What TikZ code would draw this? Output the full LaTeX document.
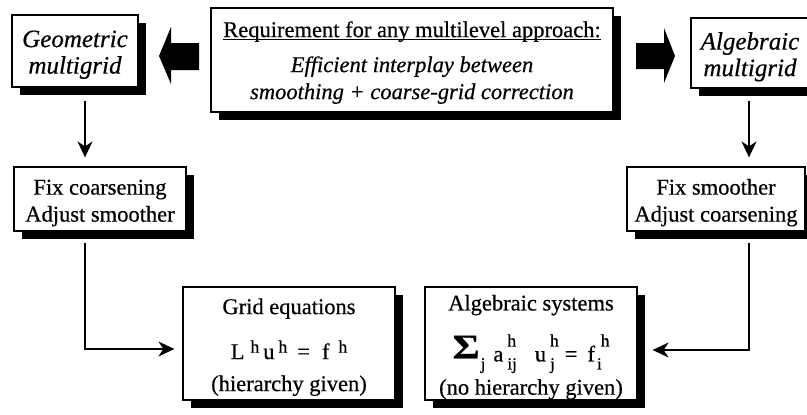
\documentclass[tikz,border=0pt]{standalone}
\usepackage{fontspec}
\usepackage{graphicx}
\setmainfont{Liberation Serif}[FakeBold=0.5]
\usetikzlibrary{shadows,arrows.meta}
\newsavebox\myulbox
\newcommand\myul[1]{\sbox\myulbox{#1}\rlap{\rule[-3pt]{\wd\myulbox}{0.9pt}}\usebox\myulbox}
\newcommand\mystrut[1]{\rule{0pt}{#1}}
\newcommand\eqsup[2]{\raisebox{#1}{\fontsize{17.5}{17.5}\selectfont #2}}
\newcommand\eqsub[1]{\raisebox{-8pt}{\fontsize{17}{17}\selectfont #1}}
\newcommand\eqstack[2]{\rlap{\eqsup{15pt}{#1}}\eqsub{#2}}
\begin{document}
\begin{tikzpicture}[x=1pt,y=-1pt,
  box/.style={draw, fill=white, line width=1.2pt, align=center, inner sep=0pt,
    font=\fontsize{22.5}{27}\selectfont,
    drop shadow={shadow xshift=8pt, shadow yshift=-8pt, fill=black, opacity=1}},
  cornerbox/.style={box, font=\fontsize{25}{26.5}\selectfont\itshape},
  conn/.style={line width=1.4pt, -{Stealth[length=16pt,width=15pt,inset=5pt]}},
  bigarrow/.style={fill=black}]
\clip (0,0) rectangle (807,415);
\fill[white] (0,0) rectangle (807,415);

% top row
\node[cornerbox, minimum width=126pt, minimum height=72pt] (geo) at (75,51)
  {\mystrut{24pt}Geometric\\multigrid};
\node[box, minimum width=402pt, minimum height=104pt] (req) at (412,60)
  {\mystrut{21pt}\myul{Requirement for any multilevel approach:}\\[8pt]
   \textit{Efficient interplay between}\\
   \textit{smoothing + coarse-grid correction}};
\node[cornerbox, minimum width=118pt, minimum height=70pt] (alg) at (750,53)
  {\mystrut{25pt}Algebraic\\multigrid};

% big arrows
\fill[bigarrow] (159,56) -- (171,27) -- (171,43) -- (199,43) -- (199,70) -- (171,70) -- (171,84) -- cycle;
\fill[bigarrow] (675,56) -- (664,28) -- (664,43) -- (636,43) -- (636,69) -- (664,69) -- (664,83) -- cycle;

% middle row
\node[box, minimum width=172pt, minimum height=64pt] (fixc) at (100,199)
  {\mystrut{23pt}Fix coarsening\\Adjust smoother};
\node[box, minimum width=178pt, minimum height=64pt] (fixs) at (716,199)
  {\mystrut{23pt}Fix smoother\\Adjust coarsening};

% bottom row
\node[box, minimum width=212pt, minimum height=113pt] (grid) at (289,343.5)
  {\mystrut{23pt}Grid equations\\[18pt]
   {L\kern6pt\eqsup{6.5pt}{h}\kern4pt u\kern4pt\eqsup{6.5pt}{h}\kern10pt=\kern12pt f\kern9pt\eqsup{6.5pt}{h}}\\[5pt]
   (hierarchy given)};
\node[box, minimum width=212pt, minimum height=113pt] (asys) at (531,343.5)
  {\mystrut{23pt}Algebraic systems\\[18pt]
   {\raisebox{3pt}{\scalebox{1.3}[1.08]{\fontsize{32}{32}\selectfont\bfseries Σ}}\kern1pt\eqsub{j}\kern8pt a\kern4pt\eqstack{h}{ij}\kern18pt u\kern4pt\eqstack{h}{j}\kern10pt=\kern10pt f\kern2pt\eqsub{i}\kern-1pt\eqsup{15pt}{h}}\\[5pt]
   (no hierarchy given)};

% connectors
\draw[conn] ([xshift=10pt,yshift=-13pt]geo.south) -- ([xshift=-15pt,yshift=9pt]fixc.north);
\draw[conn] ([xshift=-1pt,yshift=-12pt]alg.south) -- ([xshift=33pt,yshift=9pt]fixs.north);
\draw[conn] ([xshift=-15pt,yshift=-11pt]fixc.south) |- ([xshift=-8pt,yshift=-5.5pt]grid.west);
\draw[conn] ([xshift=33pt,yshift=-11pt]fixs.south) |- ([xshift=15pt,yshift=-6.5pt]asys.east);
\end{tikzpicture}
\end{document}
